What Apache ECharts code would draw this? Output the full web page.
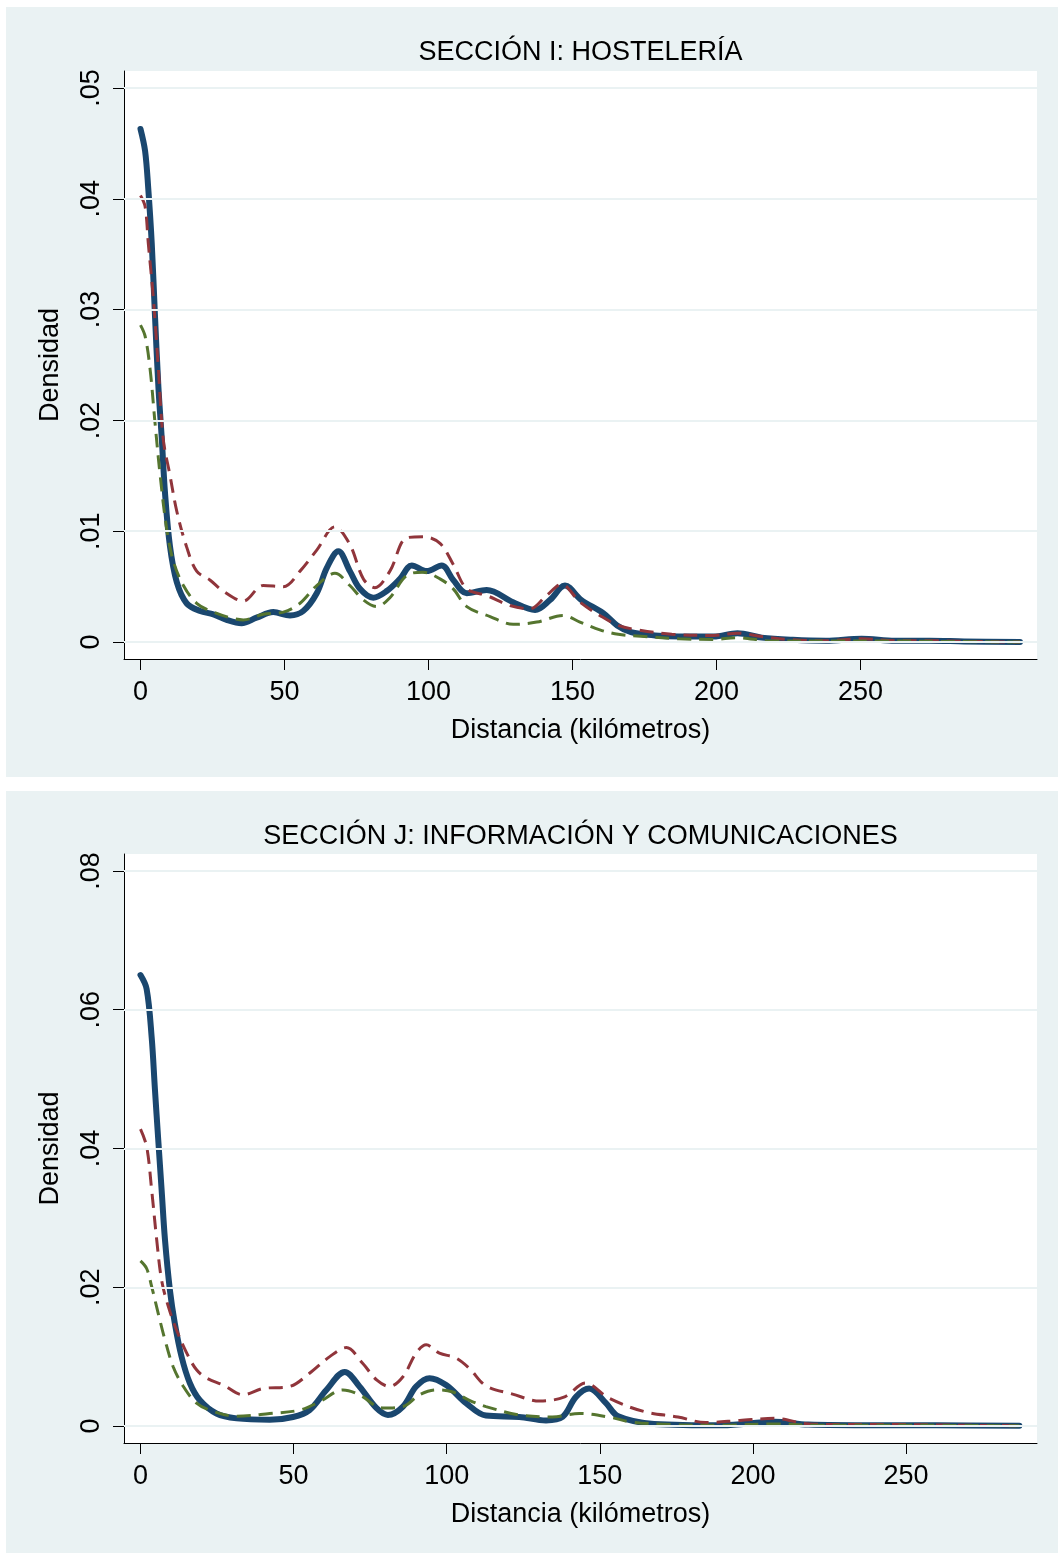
<!DOCTYPE html>
<html><head><meta charset="utf-8">
<script src="https://cdn.jsdelivr.net/npm/echarts@6/dist/echarts.min.js"></script>
<style>html,body{margin:0;padding:0;background:#fff}#c{width:1058px;height:1553px}</style>
</head><body><div id="c"></div><script>
// ---- Panel 1: SECCIÓN I: HOSTELERÍA ----
const hostBlueKm   = [0,1.6,2.7,3.9,5.0,6.2,7.4,8.5,10.2,12.6,16,20.7,25.3,29.9,35.1,40.3,46.1,51.9,56.5,61.2,64.7,68.7,72.7,76.2,80.8,85.5,90.1,94.2,99.4,104.6,108.6,113.3,120.2,129.4,137,142.2,147.4,153,160.7,165.5,170.3,178.6,187,199,207.3,215.7,226.5,238,250.4,262,274,286,305.4];
const hostBlueDens = [.0463,.0443,.0409,.0360,.0296,.0231,.0183,.0135,.0087,.0054,.0035,.0028,.0025,.0020,.0017,.0022,.0027,.0024,.0028,.0044,.0067,.0082,.0064,.0048,.0040,.0046,.0057,.0069,.0064,.0069,.0056,.0044,.0047,.0036,.0029,.0038,.0051,.0038,.0026,.0015,.0009,.0006,.0005,.0005,.0008,.0004,.0002,.00012,.0003,.00012,.00012,.00006,0];
const hostRedKm    = [0,1.6,2.7,4.4,6.2,7.9,10.2,12.6,16,19.5,24.1,28.7,35.7,42.6,49.6,55.4,61.2,67.5,72.7,77.4,81.4,86.6,92.4,98.2,104,108.6,113.3,120.2,128.3,135.2,141,146.2,152.6,159.5,165.9,172.6,184.5,199,207.3,215.7,226.5,238,250.4,262,274,286,305.4];
const hostRedDens  = [.0403,.0393,.0360,.0312,.0247,.0183,.0151,.0118,.0086,.0064,.0056,.0046,.0037,.0051,.0050,.0064,.0083,.0104,.0088,.0057,.0049,.0064,.0094,.0095,.0089,.0070,.0048,.0042,.0033,.0030,.0042,.0052,.0036,.0024,.0015,.0011,.0007,.0006,.0008,.0005,.0002,.00012,.0003,.00012,.00012,.00006,0];
const hostGreenKm  = [0,1.6,3.3,5.0,6.8,9.1,11.4,14.9,19.5,25.3,31.1,35.7,42.6,49.6,55.4,61.2,67.5,72.7,77.4,82,86.6,92.4,98.2,104,108.6,113.3,121.4,129.4,137.6,146.8,152.6,159.5,165.9,175,187,199,207,219,240,260,280,305.4];
const hostGreenDens= [.0286,.0276,.0247,.0199,.0151,.0102,.0073,.0051,.0035,.0027,.0022,.0020,.0025,.0027,.0035,.0051,.0062,.0051,.0038,.0032,.0040,.0060,.0063,.0057,.0048,.0032,.0023,.0016,.0018,.0024,.0018,.0011,.0007,.0005,.0003,.00024,.0004,.0001,.0001,.0001,.00005,0];

// ---- Panel 2: SECCIÓN J: INFORMACIÓN Y COMUNICACIONES ----
const infoBlueKm   = [0,2.0,3.65,4.7,5.8,6.9,8.0,9.6,11.2,13.4,16.1,19.4,24.8,31.4,42.2,49.8,55.2,60.7,66.7,71.5,77,80.8,85.7,90,94.4,99.8,106.3,112.8,123.7,132.4,137.8,142.2,146.5,152,156,167.7,190,207,218,240,260,287];
const infoBlueDens = [.0650,.0630,.0560,.0486,.0412,.0340,.0268,.0196,.0148,.0100,.0062,.0037,.0018,.0011,.0009,.0013,.0023,.0052,.0078,.0057,.0026,.0016,.0028,.0057,.0069,.0059,.0033,.0015,.0013,.0008,.0013,.0042,.0054,.0033,.0014,.0003,.0001,.0006,.0002,.0001,.0001,.00005];
const infoRedKm    = [0,2,3.65,5.3,6.9,9.1,11.8,15.1,18.3,21.6,27,33.5,40,48.7,55.2,61.8,67.2,72.6,77.2,81.3,85.7,90,93.3,97.6,103,107.4,112.8,121.5,130.4,138.5,145.3,153,164.3,175.5,184.5,195.7,207,218.2,230,250,270,287];
const infoRedDens  = [.0428,.0403,.0340,.0268,.0210,.0172,.0138,.0105,.0081,.0069,.0059,.0045,.0054,.0057,.0076,.0100,.0113,.0090,.0066,.0057,.0071,.0105,.0117,.0105,.0098,.0083,.0058,.0046,.0036,.0042,.0062,.0040,.0021,.0013,.0005,.0008,.0011,.0003,.0002,.0002,.0001,.00005];
const infoGreenKm  = [0,2,3.65,5.8,8,10.7,14,18.3,23.7,31.4,42.2,52,58.5,66.1,71.5,79.1,85.7,91.1,96.5,102,107.4,112.8,123.7,134.5,143.3,154,159.8,173.2,190,207,220,250,287];
const infoGreenDens= [.0238,.0227,.0201,.0162,.0124,.0085,.0057,.0033,.0021,.0014,.0018,.0023,.0035,.0052,.0045,.0026,.0028,.0045,.0052,.0049,.0037,.0028,.0016,.0013,.0018,.0012,.0006,.0002,.0001,.0003,.0001,.0001,.00003];

// ---- Ticks and texts ----
const xTicks = [0,50,100,150,200,250];
const yTicksTop = [0,.01,.02,.03,.04,.05];
const yTicksBottom = [0,.02,.04,.06,.08];
const titles = ['SECCIÓN I: HOSTELERÍA','SECCIÓN J: INFORMACIÓN Y COMUNICACIONES'];
const xName = 'Distancia (kilómetros)';
const yName = 'Densidad';

const FONT = '"Liberation Sans", Arial, Helvetica, sans-serif';
const FS = 27;
const NAVY = '#1a476f', MAROON = '#90353b', GREEN = '#55752f', BG = '#eaf2f3';

const pairs = (a, b) => a.map((k, i) => [k, b[i]]);
const fmtY = v => v === 0 ? '0' : String(+v.toFixed(2)).replace(/^0/, '');

function xAxisOpt(idx, min, max) {
  return {
    gridIndex: idx, type: 'value', min: min, max: max,
    axisLine: {show: true, onZero: false, lineStyle: {color: '#000', width: 1}},
    axisTick: {show: true, length: 11, customValues: xTicks, lineStyle: {color: '#000', width: 1}},
    axisLabel: {customValues: xTicks, fontSize: FS, color: '#000', fontFamily: FONT, margin: 20},
    splitLine: {show: false},
    name: xName, nameLocation: 'middle', nameGap: 58,
    nameTextStyle: {fontSize: FS, color: '#000', fontFamily: FONT}
  };
}
function yAxisOpt(idx, min, max, ticks) {
  return {
    gridIndex: idx, type: 'value', min: min, max: max,
    axisLine: {show: true, onZero: false, lineStyle: {color: '#000', width: 1}},
    axisTick: {show: true, length: 11, customValues: ticks, lineStyle: {color: '#000', width: 1}},
    axisLabel: {customValues: ticks, rotate: 90, fontSize: FS, color: '#000', fontFamily: FONT, margin: 19, formatter: fmtY},
    splitLine: {show: false},
    name: yName, nameLocation: 'middle', nameGap: 60, nameRotate: 90,
    nameTextStyle: {fontSize: FS, color: '#000', fontFamily: FONT}
  };
}
function gridLines(idx, ticks) {
  return {
    type: 'line', xAxisIndex: idx, yAxisIndex: idx, data: [[0, 0]], symbol: 'none',
    lineStyle: {opacity: 0}, silent: true, z: 1,
    markLine: {silent: true, symbol: ['none', 'none'], label: {show: false},
      lineStyle: {color: BG, width: 2, type: 'solid'},
      data: ticks.map(t => ({yAxis: t}))}
  };
}
function curve(idx, data, color, solid) {
  return {
    type: 'line', xAxisIndex: idx, yAxisIndex: idx, data: data, symbol: 'none',
    smooth: 0.35, z: solid ? 3 : 4,
    lineStyle: solid ? {color: color, width: 6, cap: 'round', join: 'round'}
                     : {color: color, width: 3, type: [14, 8]}
  };
}

const chart = echarts.init(document.getElementById('c'), null, {renderer: 'canvas'});
chart.setOption({
  animation: false,
  backgroundColor: '#fff',
  graphic: [
    {type: 'rect', z: -100, silent: true, shape: {x: 6, y: 7, width: 1052, height: 770}, style: {fill: BG}},
    {type: 'rect', z: -100, silent: true, shape: {x: 6, y: 791, width: 1052, height: 762}, style: {fill: BG}}
  ],
  title: [
    {text: titles[0], left: 580.5, top: 39, padding: 0, textAlign: 'center',
     textStyle: {fontSize: FS, fontWeight: 'normal', color: '#000', fontFamily: FONT}},
    {text: titles[1], left: 580.5, top: 823, padding: 0, textAlign: 'center',
     textStyle: {fontSize: FS, fontWeight: 'normal', color: '#000', fontFamily: FONT}}
  ],
  grid: [
    {left: 124, top: 71, width: 913, height: 588, show: true, backgroundColor: '#fff', borderWidth: 0},
    {left: 124, top: 854, width: 913, height: 589, show: true, backgroundColor: '#fff', borderWidth: 0}
  ],
  xAxis: [xAxisOpt(0, -5.73, 311.3), xAxisOpt(1, -5.39, 292.75)],
  yAxis: [yAxisOpt(0, -0.00153, 0.05153, yTicksTop), yAxisOpt(1, -0.00245, 0.08245, yTicksBottom)],
  series: [
    gridLines(0, yTicksTop),
    gridLines(1, yTicksBottom),
    curve(0, pairs(hostBlueKm, hostBlueDens), NAVY, true),
    curve(0, pairs(hostRedKm, hostRedDens), MAROON, false),
    curve(0, pairs(hostGreenKm, hostGreenDens), GREEN, false),
    curve(1, pairs(infoBlueKm, infoBlueDens), NAVY, true),
    curve(1, pairs(infoRedKm, infoRedDens), MAROON, false),
    curve(1, pairs(infoGreenKm, infoGreenDens), GREEN, false)
  ]
});
</script></body></html>
